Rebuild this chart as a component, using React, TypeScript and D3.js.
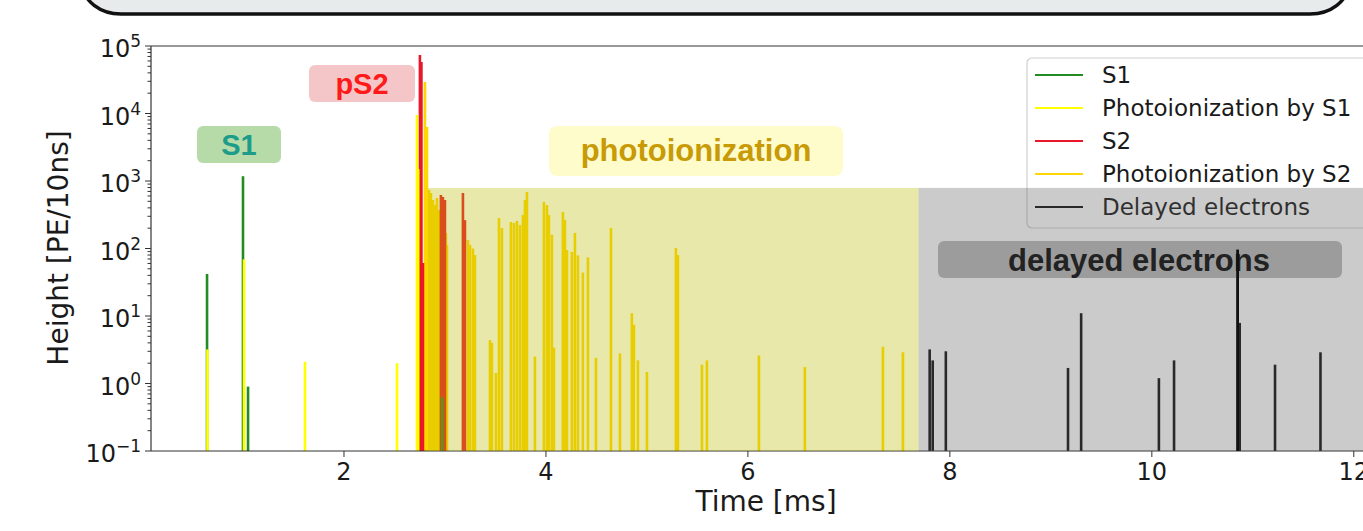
import React from "react";
import * as d3 from "d3";

// ---- data (time in ms, height in PE/10ns) ----
const s1Spikes: [number, number][] = [
  [0.644, 42], [1.0, 1180], [1.05, 0.9], [2.972, 0.63],
];
const photoS1Spikes: [number, number][] = [
  [0.648, 3.2], [1.01, 69], [1.614, 2.1], [2.525, 2.0], [2.723, 9500], [2.735, 1500],
];
const s2Spikes: [number, number][] = [
  [2.752, 73600], [2.767, 58000], [2.782, 61],
  [2.96, 621], [2.98, 580], [3.0, 523],
  [3.178, 664], [3.198, 263],
];
const photoS2Spikes: [number, number][] = [
  [2.802, 29300], [2.822, 6300], [2.842, 736], [2.861, 664], [2.881, 523],
  [2.901, 441], [2.921, 560], [2.941, 372], [3.01, 170], [3.02, 113],
  [3.228, 134], [3.248, 113], [3.277, 100], [3.297, 80],
  [3.446, 4.4], [3.465, 4.0], [3.505, 1.43], [3.535, 283], [3.564, 201],
  [3.653, 247], [3.683, 239], [3.713, 256], [3.743, 223], [3.772, 313],
  [3.792, 523], [3.812, 688], [3.891, 2.5], [3.98, 490], [4.01, 440],
  [4.03, 313], [4.059, 160], [4.079, 3.4], [4.168, 348], [4.188, 266],
  [4.208, 95], [4.257, 89], [4.287, 170], [4.317, 79], [4.366, 44],
  [4.416, 74], [4.495, 2.4], [4.644, 201], [4.733, 2.8], [4.851, 11],
  [4.871, 7.4], [4.911, 2.2], [5.0, 1.48], [5.287, 102], [5.307, 80],
  [5.545, 1.9], [5.594, 2.2], [6.109, 2.6], [6.564, 1.75], [7.337, 3.5],
  [7.535, 2.9],
];
const delayedSpikes: [number, number][] = [
  [7.8, 3.2], [7.83, 2.2], [7.96, 3.0], [9.17, 1.7], [9.3, 11],
  [10.07, 1.2], [10.22, 2.2], [10.85, 96], [10.87, 7.9], [11.22, 1.9],
  [11.67, 2.9],
];

const legendLabels = ["S1", "Photoionization by S1", "S2", "Photoionization by S2", "Delayed electrons"];
const legendColors = ["#228B22", "#ffff00", "#e8182a", "#ffd700", "#111111"];

const xTicks = [2, 4, 6, 8, 10, 12];
const yDecades = [-1, 0, 1, 2, 3, 4, 5];

const photoRegion = { start: 2.83, end: 7.69, top: 790 };
const delayedRegion = { start: 7.69, end: 12.5, top: 790 };

const W = 1363;
const H = 531;
const L = 151, T = 46, B = 451, R = 1375;

export default function App() {
  const x = d3.scaleLinear().domain([0.089, 12.21]).range([L, R]);
  const y = d3.scaleLog().domain([0.1, 1e5]).range([B, T]);

  const minor: number[] = [];
  for (let k = -1; k < 5; k++) for (let m = 2; m <= 9; m++) minor.push(m * Math.pow(10, k));

  const spikeLines = (data: [number, number][], color: string, key: string) =>
    data.map(([t, h], i) => (
      <line key={key + i} x1={x(t)} x2={x(t)} y1={B + 5} y2={y(h)} stroke={color} strokeWidth={2.6} />
    ));

  const font = "DejaVu Sans, sans-serif";
  const bold = "Liberation Sans, Arial, sans-serif";

  return (
    <svg width={W} height={H} style={{ position: "absolute", left: 0, top: 0, background: "#fff" }}>
      <defs>
        <clipPath id="plot">
          <rect x={L} y={T} width={R - L} height={B - T} />
        </clipPath>
      </defs>
      {/* top rounded panel */}
      <rect x={83} y={-45} width={1265} height={59} rx={38} fill="#e8ebec" stroke="#111" strokeWidth={3.5} />

      {/* spikes */}
      <g clipPath="url(#plot)">
        {spikeLines(photoS2Spikes, legendColors[3], "p2")}
        {spikeLines(s2Spikes, legendColors[2], "s2")}
        {spikeLines(s1Spikes, legendColors[0], "s1")}
        {spikeLines(photoS1Spikes, legendColors[1], "p1")}
        {spikeLines(delayedSpikes, legendColors[4], "de")}
      </g>

      {/* spines */}
      <g stroke="#333" strokeWidth={1.2} fill="none">
        <line x1={L} x2={L} y1={T} y2={B} />
        <line x1={L} x2={W} y1={B} y2={B} />
        <line x1={L} x2={W} y1={T} y2={T} />
      </g>
      {/* y ticks */}
      <g stroke="#333" strokeWidth={1}>
        {yDecades.map((k) => (
          <line key={"ym" + k} x1={L - 6} x2={L} y1={y(Math.pow(10, k))} y2={y(Math.pow(10, k))} />
        ))}
        {minor.map((v, i) => (
          <line key={"yn" + i} x1={L - 3.5} x2={L} y1={y(v)} y2={y(v)} />
        ))}
        {xTicks.map((t) => (
          <line key={"xt" + t} x1={x(t)} x2={x(t)} y1={B} y2={B + 6} />
        ))}
      </g>
      <g fill="#1a1a1a" fontFamily={font}>
        {yDecades.map((k) => (
          <text key={"yl" + k} x={141} y={y(Math.pow(10, k)) + 11} textAnchor="end" fontSize={24}>
            10
            <tspan dy={-10} fontSize={17}>{k < 0 ? "\u2212" + Math.abs(k) : String(k)}</tspan>
          </text>
        ))}
        {xTicks.map((t) => (
          <text key={"xl" + t} x={x(t)} y={480} textAnchor="middle" fontSize={24}>{t}</text>
        ))}
        <text x={766} y={511} textAnchor="middle" fontSize={28}>Time [ms]</text>
        <text transform="translate(68,248) rotate(-90)" textAnchor="middle" fontSize={28}>Height [PE/10ns]</text>
      </g>

      {/* legend */}
      <rect x={1027} y={58} width={360} height={170} rx={5} fill="#fff" fillOpacity={0.85} stroke="#cfcfcf" strokeWidth={1.2} />
      {legendLabels.map((lab, i) => {
        const ry = 75 + i * 33;
        return (
          <g key={"lg" + i}>
            <line x1={1035} x2={1083} y1={ry} y2={ry} stroke={legendColors[i]} strokeWidth={2} />
            <text x={1102} y={ry + 8} fontSize={23} fontFamily={font} fill="#1a1a1a">{lab}</text>
          </g>
        );
      })}

      {/* shaded regions */}
      <rect x={x(photoRegion.start)} y={y(photoRegion.top)} width={x(photoRegion.end) - x(photoRegion.start)}
        height={B - y(photoRegion.top)} fill="rgb(186,186,0)" fillOpacity={0.333} />
      <rect x={x(delayedRegion.start)} y={y(delayedRegion.top)} width={W - x(delayedRegion.start)}
        height={B - y(delayedRegion.top)} fill="#5e5e5e" fillOpacity={0.32} />

      {/* annotation boxes */}
      <rect x={197} y={126} width={84} height={37} rx={6} fill="#b6dba8" />
      <text x={239} y={155} textAnchor="middle" fontSize={29} fontWeight="bold" fontFamily={bold} fill="#1e9c8a">S1</text>
      <rect x={309} y={65} width={106} height={37} rx={6} fill="#f5c6c8" />
      <text x={362} y={94} textAnchor="middle" fontSize={29} fontWeight="bold" fontFamily={bold} fill="#ff1a1a">pS2</text>
      <rect x={549} y={126} width={294} height={50} rx={8} fill="#fffccc" />
      <text x={696} y={161} textAnchor="middle" fontSize={31} fontWeight="bold" fontFamily={bold} fill="#c89a06">photoionization</text>
      <rect x={938} y={241} width={404} height={37} rx={6} fill="#555" fillOpacity={0.4} />
      <text x={1139} y={271} textAnchor="middle" fontSize={31} fontWeight="bold" fontFamily={bold} fill="#222">delayed electrons</text>
      {/* spike crossing the label box */}
      <g clipPath="url(#plot)">
        {spikeLines(delayedSpikes.filter(([, h]) => h > 50), legendColors[4], "dx")}
      </g>
    </svg>
  );
}
